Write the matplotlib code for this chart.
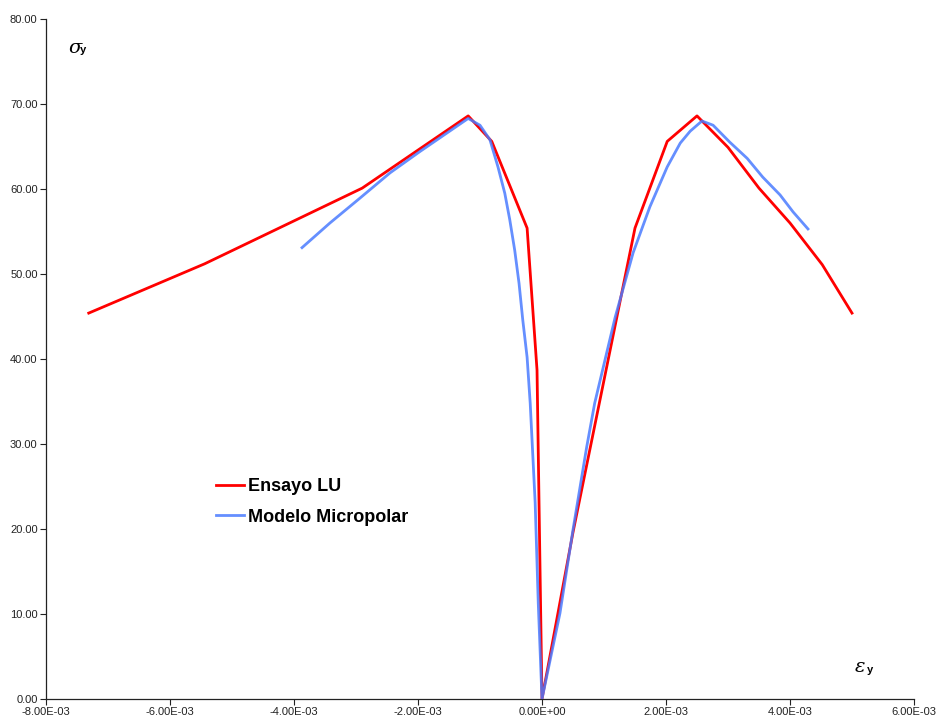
import matplotlib.pyplot as plt
from matplotlib.ticker import FuncFormatter, MultipleLocator

plt.rcParams['font.family'] = ['Liberation Sans', 'DejaVu Sans']

# Ensayo LU (strain, stress)
lu_strain = [-7.31e-3, -5.44e-3, -2.90e-3, -1.19e-3, -0.81e-3, -0.24e-3, -0.08e-3, 0.0,
             0.50e-3, 1.50e-3, 2.02e-3, 2.50e-3, 3.00e-3, 3.50e-3, 4.00e-3, 4.52e-3, 5.00e-3]
lu_stress = [45.4, 51.2, 60.1, 68.6, 65.6, 55.4, 38.7, 0.0,
             19.6, 55.4, 65.6, 68.6, 64.9, 60.1, 56.0, 51.1, 45.4]

# Modelo Micropolar
mp_strain = [-3.87e-3, -3.42e-3, -2.94e-3, -2.45e-3, -1.97e-3, -1.53e-3, -1.19e-3, -1.00e-3,
             -0.84e-3, -0.71e-3, -0.60e-3, -0.52e-3, -0.44e-3, -0.37e-3, -0.31e-3, -0.24e-3,
             -0.19e-3, -0.11e-3, -0.06e-3, 0.0,
             0.29e-3, 0.50e-3, 0.72e-3, 0.85e-3, 1.18e-3, 1.47e-3, 1.74e-3, 2.02e-3, 2.23e-3,
             2.39e-3, 2.58e-3, 2.76e-3, 3.03e-3, 3.31e-3, 3.56e-3, 3.84e-3, 4.05e-3, 4.29e-3]
mp_stress = [53.1, 56.0, 58.9, 61.9, 64.4, 66.6, 68.3, 67.5,
             65.8, 62.6, 59.5, 56.4, 52.8, 48.9, 44.6, 40.2,
             34.8, 23.1, 11.3, 0.0,
             10.1, 19.9, 29.6, 34.8, 44.9, 52.5, 57.9, 62.6, 65.4,
             66.8, 68.0, 67.5, 65.5, 63.6, 61.4, 59.3, 57.3, 55.3]

fig = plt.figure(figsize=(9.36, 7.19), dpi=100)
ax = fig.add_axes([0.0491, 0.0278, 0.9274, 0.9458])

ax.plot(lu_strain, lu_stress, color='#ff0000', lw=2.0, label='Ensayo LU', zorder=3)
ax.plot(mp_strain, mp_stress, color='#4a7bff', lw=2.0, alpha=0.85, label='Modelo Micropolar', zorder=4)

ax.set_xlim(-8e-3, 6e-3)
ax.set_ylim(0, 80)
ax.xaxis.set_major_locator(MultipleLocator(2e-3))
ax.yaxis.set_major_locator(MultipleLocator(10))
ax.xaxis.set_major_formatter(FuncFormatter(lambda v, p: f'{v:.2E}'))
ax.yaxis.set_major_formatter(FuncFormatter(lambda v, p: f'{v:.2f}'))
ax.tick_params(labelsize=8, length=4, width=0.8, direction='out', colors='#222222')
ax.tick_params(axis='x', pad=2)
ax.tick_params(axis='y', pad=2)

for s in ['top', 'right']:
    ax.spines[s].set_visible(False)
for s in ['left', 'bottom']:
    ax.spines[s].set_linewidth(0.9)
    ax.spines[s].set_color('#222222')

# axis symbols
fig.text(68 / 936, 1 - 48 / 719, 'σ', fontsize=14, family='DejaVu Serif', style='italic', va='center')
fig.text(80 / 936, 1 - 50 / 719, 'y', fontsize=8, weight='bold', va='center')
fig.text(855 / 936, 1 - 667 / 719, 'ε', fontsize=14, family='DejaVu Serif', style='italic', va='center')
fig.text(867 / 936, 1 - 670 / 719, 'y', fontsize=8, weight='bold', va='center')

ax.legend(loc='upper left', bbox_to_anchor=(209 / 936, 1 - 471 / 719), bbox_transform=fig.transFigure,
          frameon=False, prop={'weight': 'bold', 'size': 13}, handlelength=1.55, handletextpad=0.2,
          labelspacing=0.75, borderaxespad=0)

fig.savefig('out.png', dpi=100)
